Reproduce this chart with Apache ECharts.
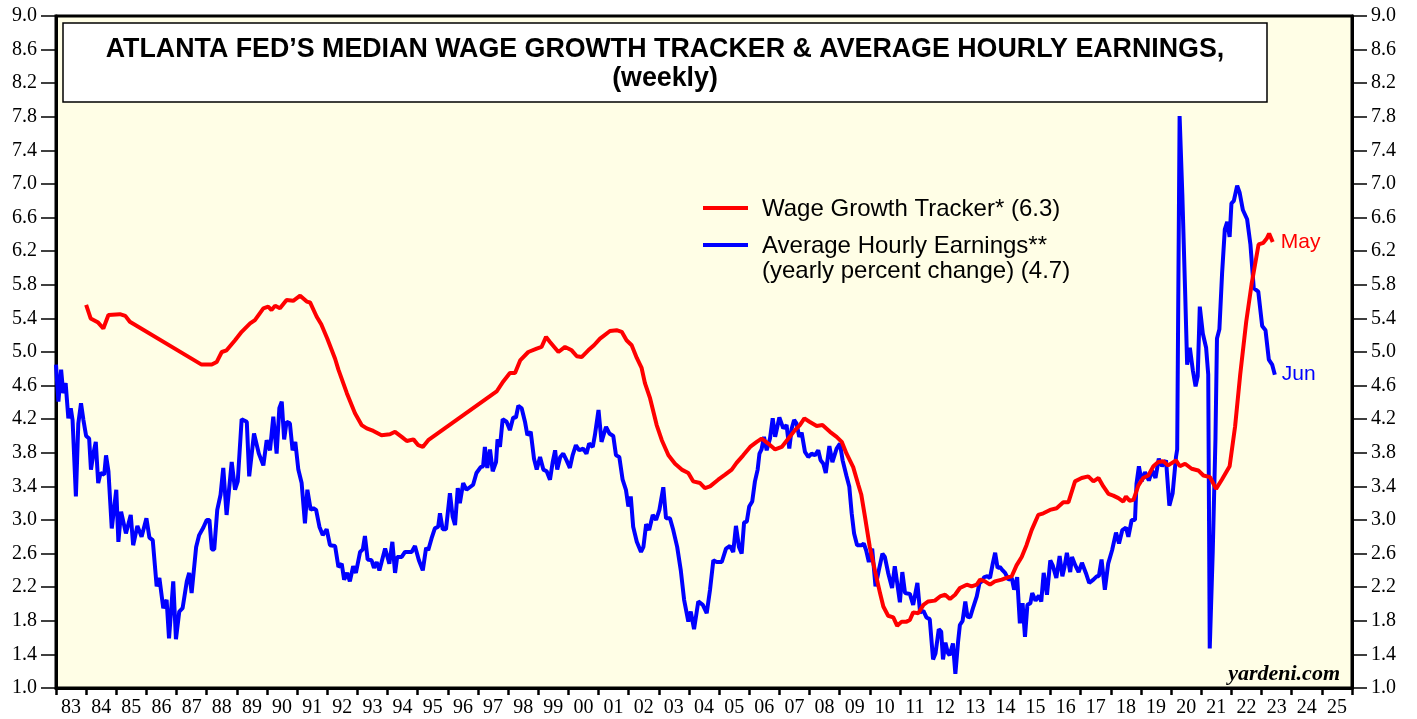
<!DOCTYPE html>
<html>
<head>
<meta charset="utf-8">
<script src="https://cdn.jsdelivr.net/npm/echarts@6/dist/echarts.min.js"></script>
<style>
html,body{margin:0;padding:0;background:#fff;}
#chart{width:1417px;height:719px;}
</style>
</head>
<body>
<div id="chart"></div>
<script>
const yearLabels = ['83','84','85','86','87','88','89','90','91','92','93','94','95','96','97','98','99','00','01','02','03','04','05','06','07','08','09','10','11','12','13','14','15','16','17','18','19','20','21','22','23','24','25'];

const wgtYears = [1984.0,1984.15,1984.4,1984.57,1984.74,1985.12,1985.3,1985.45,1987.83,1988.17,1988.33,1988.5,1988.66,1988.94,1989.16,1989.44,1989.6,1989.88,1990.04,1990.15,1990.27,1990.43,1990.65,1990.87,1991.1,1991.32,1991.43,1991.65,1991.8,1992.0,1992.26,1992.37,1992.65,1992.92,1993.14,1993.31,1993.53,1993.8,1994.08,1994.25,1994.47,1994.64,1994.86,1995.02,1995.17,1995.35,1997.62,1997.84,1998.06,1998.23,1998.4,1998.67,1998.95,1999.11,1999.26,1999.39,1999.67,1999.89,2000.11,2000.28,2000.44,2000.66,2000.85,2001.05,2001.16,2001.38,2001.6,2001.77,2001.93,2002.1,2002.27,2002.43,2002.54,2002.71,2002.93,2003.1,2003.32,2003.54,2003.76,2003.98,2004.14,2004.37,2004.53,2004.7,2004.97,2005.2,2005.42,2005.58,2005.8,2006.03,2006.25,2006.41,2006.63,2006.86,2007.08,2007.3,2007.52,2007.68,2007.83,2008.0,2008.24,2008.43,2008.68,2008.9,2009.07,2009.23,2009.45,2009.62,2009.72,2009.84,2010.0,2010.17,2010.34,2010.45,2010.61,2010.78,2010.91,2011.06,2011.22,2011.33,2011.44,2011.61,2011.78,2011.94,2012.16,2012.33,2012.5,2012.66,2012.83,2012.99,2013.22,2013.38,2013.55,2013.66,2013.82,2013.99,2014.15,2014.38,2014.6,2014.71,2014.87,2015.04,2015.2,2015.37,2015.59,2015.76,2015.98,2016.2,2016.42,2016.59,2016.81,2017.03,2017.25,2017.42,2017.59,2017.75,2017.92,2018.08,2018.25,2018.41,2018.5,2018.62,2018.75,2018.91,2019.07,2019.24,2019.41,2019.57,2019.74,2019.9,2020.16,2020.29,2020.46,2020.68,2020.9,2021.07,2021.29,2021.49,2021.68,2021.94,2022.12,2022.29,2022.49,2022.67,2022.9,2023.06,2023.17,2023.25,2023.37];
const wgtValues = [5.56,5.40,5.35,5.28,5.44,5.45,5.43,5.36,4.85,4.85,4.88,5.00,5.02,5.14,5.24,5.34,5.38,5.52,5.54,5.50,5.55,5.52,5.62,5.61,5.67,5.60,5.59,5.42,5.33,5.16,4.92,4.79,4.51,4.27,4.13,4.09,4.06,4.01,4.02,4.05,3.99,3.94,3.96,3.89,3.87,3.95,4.53,4.65,4.75,4.75,4.90,5.00,5.04,5.06,5.18,5.12,5.00,5.06,5.02,4.95,4.94,5.02,5.08,5.16,5.19,5.25,5.26,5.24,5.14,5.08,4.93,4.81,4.63,4.45,4.13,3.95,3.77,3.67,3.60,3.56,3.46,3.44,3.38,3.40,3.48,3.54,3.60,3.68,3.77,3.87,3.93,3.97,3.91,3.84,3.87,3.97,4.07,4.13,4.21,4.17,4.12,4.13,4.05,3.99,3.93,3.79,3.63,3.42,3.30,3.04,2.68,2.40,2.13,1.97,1.86,1.84,1.74,1.79,1.79,1.81,1.90,1.89,1.99,2.03,2.04,2.09,2.11,2.06,2.11,2.19,2.23,2.21,2.23,2.29,2.27,2.23,2.27,2.29,2.32,2.33,2.46,2.56,2.70,2.88,3.06,3.08,3.12,3.14,3.21,3.21,3.46,3.50,3.52,3.46,3.50,3.40,3.31,3.29,3.26,3.22,3.28,3.23,3.24,3.41,3.50,3.53,3.64,3.69,3.70,3.65,3.71,3.64,3.67,3.61,3.59,3.53,3.51,3.37,3.48,3.64,4.11,4.73,5.36,5.81,6.28,6.30,6.35,6.41,6.31];

const aheYears = [1983.0,1983.08,1983.17,1983.24,1983.32,1983.41,1983.49,1983.55,1983.66,1983.74,1983.83,1983.91,1984.0,1984.1,1984.16,1984.24,1984.32,1984.4,1984.48,1984.6,1984.66,1984.74,1984.85,1985.0,1985.07,1985.16,1985.32,1985.48,1985.56,1985.7,1985.84,1986.0,1986.1,1986.21,1986.34,1986.43,1986.56,1986.67,1986.75,1986.89,1986.98,1987.09,1987.2,1987.34,1987.42,1987.5,1987.65,1987.75,1987.89,1988.0,1988.09,1988.17,1988.25,1988.35,1988.46,1988.55,1988.66,1988.83,1988.94,1989.03,1989.16,1989.33,1989.41,1989.57,1989.73,1989.88,1989.99,1990.1,1990.21,1990.32,1990.41,1990.49,1990.57,1990.65,1990.76,1990.85,1990.94,1991.04,1991.15,1991.26,1991.34,1991.45,1991.54,1991.63,1991.74,1991.85,1991.98,1992.09,1992.26,1992.37,1992.48,1992.56,1992.66,1992.75,1992.86,1992.95,1993.09,1993.18,1993.25,1993.34,1993.47,1993.55,1993.64,1993.73,1993.92,1994.06,1994.16,1994.25,1994.32,1994.47,1994.58,1994.8,1994.91,1995.04,1995.17,1995.28,1995.35,1995.46,1995.57,1995.68,1995.74,1995.83,1995.94,1996.07,1996.16,1996.24,1996.33,1996.4,1996.51,1996.62,1996.84,1996.95,1997.09,1997.17,1997.23,1997.31,1997.4,1997.49,1997.6,1997.65,1997.73,1997.82,1997.95,1998.06,1998.17,1998.26,1998.34,1998.45,1998.56,1998.64,1998.75,1998.86,1998.95,1999.06,1999.17,1999.28,1999.39,1999.48,1999.56,1999.63,1999.73,1999.83,1999.94,2000.05,2000.14,2000.25,2000.36,2000.49,2000.6,2000.69,2000.81,2000.88,2001.0,2001.1,2001.25,2001.36,2001.49,2001.58,2001.69,2001.8,2001.91,2001.99,2002.07,2002.15,2002.27,2002.41,2002.49,2002.58,2002.68,2002.8,2002.91,2003.02,2003.15,2003.24,2003.37,2003.48,2003.61,2003.73,2003.84,2003.98,2004.06,2004.17,2004.31,2004.46,2004.59,2004.7,2004.81,2004.92,2005.09,2005.23,2005.36,2005.47,2005.56,2005.66,2005.75,2005.83,2005.92,2006.0,2006.1,2006.19,2006.28,2006.34,2006.41,2006.49,2006.58,2006.69,2006.78,2006.86,2007.0,2007.13,2007.24,2007.33,2007.41,2007.49,2007.57,2007.66,2007.74,2007.85,2007.96,2008.07,2008.18,2008.29,2008.37,2008.46,2008.54,2008.66,2008.76,2008.9,2009.01,2009.1,2009.23,2009.32,2009.4,2009.48,2009.58,2009.73,2009.8,2009.88,2009.97,2010.08,2010.19,2010.3,2010.42,2010.5,2010.61,2010.74,2010.83,2010.91,2011.0,2011.08,2011.17,2011.33,2011.44,2011.58,2011.67,2011.78,2011.88,2011.99,2012.1,2012.18,2012.29,2012.37,2012.43,2012.51,2012.59,2012.65,2012.76,2012.84,2012.93,2012.99,2013.08,2013.17,2013.24,2013.33,2013.44,2013.55,2013.64,2013.72,2013.8,2013.9,2013.99,2014.08,2014.16,2014.24,2014.32,2014.41,2014.49,2014.6,2014.71,2014.79,2014.89,2014.98,2015.07,2015.15,2015.23,2015.33,2015.39,2015.5,2015.61,2015.69,2015.77,2015.88,2015.99,2016.07,2016.19,2016.3,2016.39,2016.46,2016.54,2016.65,2016.71,2016.82,2016.93,2017.04,2017.17,2017.28,2017.42,2017.53,2017.6,2017.69,2017.8,2017.91,2018.04,2018.17,2018.27,2018.38,2018.5,2018.58,2018.69,2018.8,2018.85,2018.93,2019.02,2019.13,2019.26,2019.37,2019.48,2019.59,2019.7,2019.83,2019.94,2020.05,2020.16,2020.2,2020.28,2020.37,2020.46,2020.53,2020.62,2020.72,2020.81,2020.88,2020.95,2021.05,2021.16,2021.23,2021.28,2021.38,2021.47,2021.52,2021.6,2021.69,2021.78,2021.86,2021.94,2022.0,2022.08,2022.19,2022.27,2022.38,2022.52,2022.63,2022.74,2022.89,2023.02,2023.13,2023.24,2023.35,2023.44];
const aheValues = [4.85,4.41,4.79,4.51,4.63,4.21,4.33,4.19,3.28,4.15,4.39,4.19,4.00,3.97,3.60,3.79,3.93,3.44,3.56,3.54,3.77,3.58,2.90,3.36,2.74,3.10,2.84,3.06,2.70,2.93,2.80,3.02,2.79,2.76,2.21,2.31,1.95,2.05,1.59,2.27,1.58,1.91,1.95,2.27,2.37,2.13,2.68,2.82,2.91,3.00,3.00,2.65,2.65,3.12,3.30,3.62,3.06,3.69,3.36,3.46,4.20,4.17,3.52,4.03,3.79,3.65,3.95,3.83,4.23,3.79,4.33,4.41,3.96,4.17,4.15,3.83,3.93,3.60,3.44,2.96,3.36,3.12,3.14,3.12,2.92,2.82,2.89,2.70,2.69,2.44,2.48,2.29,2.37,2.27,2.45,2.37,2.62,2.65,2.81,2.53,2.52,2.43,2.50,2.40,2.66,2.48,2.74,2.37,2.56,2.56,2.62,2.62,2.69,2.52,2.40,2.67,2.64,2.78,2.90,2.92,3.08,2.89,2.89,3.32,3.04,2.94,3.38,3.20,3.44,3.36,3.42,3.56,3.63,3.64,3.87,3.62,3.84,3.58,3.69,3.96,3.87,4.20,4.17,4.07,4.22,4.22,4.36,4.33,4.17,4.01,4.05,3.73,3.60,3.75,3.60,3.58,3.48,3.69,3.83,3.60,3.75,3.79,3.71,3.62,3.77,3.89,3.83,3.85,3.79,3.91,3.87,4.01,4.31,3.93,4.11,4.03,4.00,3.77,3.75,3.48,3.36,3.16,3.28,2.92,2.74,2.62,2.68,2.95,2.88,3.06,3.00,3.12,3.39,3.02,3.02,2.88,2.68,2.40,2.05,1.79,1.91,1.70,2.03,1.99,1.89,2.17,2.52,2.50,2.50,2.66,2.69,2.62,2.93,2.68,2.60,2.97,2.98,3.16,3.22,3.46,3.60,3.79,3.84,3.99,3.83,3.97,4.21,3.99,4.22,4.09,4.13,3.85,4.09,4.19,4.15,3.99,4.04,3.81,3.75,3.79,3.77,3.83,3.71,3.67,3.56,3.88,3.69,3.85,3.91,3.71,3.52,3.40,3.08,2.84,2.70,2.70,2.72,2.64,2.50,2.66,2.21,2.40,2.60,2.56,2.37,2.19,2.45,2.25,2.02,2.38,2.13,2.12,1.99,2.25,1.90,1.92,1.84,1.82,1.34,1.41,1.70,1.67,1.34,1.54,1.42,1.39,1.53,1.17,1.55,1.75,1.80,2.03,1.85,1.84,1.97,2.09,2.25,2.27,2.32,2.33,2.31,2.48,2.61,2.43,2.44,2.40,2.37,2.29,2.31,2.17,2.32,1.77,2.01,1.61,1.99,2.01,2.13,2.04,2.10,2.03,2.37,2.11,2.52,2.46,2.31,2.57,2.33,2.44,2.61,2.38,2.56,2.46,2.38,2.49,2.37,2.25,2.29,2.33,2.33,2.53,2.17,2.48,2.64,2.85,2.72,2.88,2.91,2.80,3.00,3.00,3.43,3.64,3.46,3.57,3.47,3.59,3.50,3.73,3.64,3.71,3.17,3.32,3.75,3.84,7.81,6.88,5.76,4.85,5.05,4.78,4.59,4.71,5.54,5.22,5.05,4.73,1.47,2.63,3.97,5.16,5.27,5.94,6.46,6.55,6.37,6.77,6.80,6.98,6.90,6.69,6.58,6.28,5.76,5.72,5.31,5.26,4.91,4.85,4.73];

const wgtName = 'Wage Growth Tracker* (6.3)';
const aheName1 = 'Average Hourly Earnings**';
const aheName2 = '(yearly percent change) (4.7)';

const zip = (xs, ys) => xs.map((x, i) => [x, ys[i]]);

const chart = echarts.init(document.getElementById('chart'), null, {renderer: 'canvas'});
const serif = 'Liberation Serif, Times New Roman, serif';
const sans = 'Liberation Sans, Arial, Helvetica, sans-serif';

const yAxisCommon = {
  type: 'value', min: 1, max: 9, interval: 0.4,
  axisLine: {show: true, lineStyle: {color: '#000', width: 3}},
  axisTick: {show: true, inside: false, length: 15, lineStyle: {color: '#000', width: 1.5}},
  axisLabel: {color: '#000', fontFamily: serif, fontSize: 20, margin: 19, formatter: v => v.toFixed(1)},
  splitLine: {show: false}
};

chart.setOption({
  animation: false,
  backgroundColor: '#ffffff',
  grid: {left: 56, right: 65, top: 16, bottom: 31, show: true, backgroundColor: '#fffee6', borderColor: '#000', borderWidth: 3},
  xAxis: [
    {
      type: 'category', data: yearLabels, boundaryGap: true, position: 'bottom',
      axisLine: {show: true, lineStyle: {color: '#000', width: 3}},
      axisTick: {show: true, inside: false, length: 7, lineStyle: {color: '#000', width: 2.5}},
      axisLabel: {color: '#000', fontFamily: serif, fontSize: 20, margin: 10, interval: 0},
      splitLine: {show: false}
    },
    {type: 'value', min: 1983, max: 2026, show: false}
  ],
  yAxis: [
    Object.assign({position: 'left'}, yAxisCommon),
    Object.assign({position: 'right'}, yAxisCommon)
  ],
  series: [
    {
      name: wgtName, type: 'line', xAxisIndex: 1, yAxisIndex: 0,
      data: zip(wgtYears, wgtValues), showSymbol: false, symbol: 'none',
      lineStyle: {color: '#ff0000', width: 4}, itemStyle: {color: '#ff0000'}, z: 3,
      endLabel: {show: true, formatter: 'May', color: '#ff0000', fontFamily: sans, fontSize: 21, distance: 8}
    },
    {
      name: aheName1, type: 'line', xAxisIndex: 1, yAxisIndex: 0,
      data: zip(aheYears, aheValues), showSymbol: false, symbol: 'none',
      lineStyle: {color: '#0000ff', width: 4}, itemStyle: {color: '#0000ff'}, z: 2,
      endLabel: {show: true, formatter: 'Jun', color: '#0000ff', fontFamily: sans, fontSize: 21, distance: 7}
    }
  ],
  graphic: [
    {type: 'rect', z: 100, shape: {x: 63, y: 23, width: 1204, height: 79}, style: {fill: '#ffffff', stroke: '#000', lineWidth: 1.5}},
    {type: 'text', z: 101, x: 665, y: 50, style: {text: 'ATLANTA FED\u2019S MEDIAN WAGE GROWTH TRACKER & AVERAGE HOURLY EARNINGS,', font: 'bold 26.8px ' + sans, fill: '#000', textAlign: 'center', textVerticalAlign: 'middle'}},
    {type: 'text', z: 101, x: 665, y: 79, style: {text: '(weekly)', font: 'bold 26.8px ' + sans, fill: '#000', textAlign: 'center', textVerticalAlign: 'middle'}},
    {type: 'line', z: 100, shape: {x1: 703, y1: 208, x2: 748, y2: 208}, style: {stroke: '#ff0000', lineWidth: 4}},
    {type: 'line', z: 100, shape: {x1: 703, y1: 245, x2: 748, y2: 245}, style: {stroke: '#0000ff', lineWidth: 4}},
    {type: 'text', z: 100, x: 762, y: 209, style: {text: wgtName, font: '24px ' + sans, fill: '#000', textVerticalAlign: 'middle'}},
    {type: 'text', z: 100, x: 762, y: 246, style: {text: aheName1, font: '24px ' + sans, fill: '#000', textVerticalAlign: 'middle'}},
    {type: 'text', z: 100, x: 762, y: 271, style: {text: aheName2, font: '24px ' + sans, fill: '#000', textVerticalAlign: 'middle'}},
    {type: 'text', z: 100, x: 1340, y: 674, style: {text: 'yardeni.com', font: 'italic bold 22px ' + serif, fill: '#000', textAlign: 'right', textVerticalAlign: 'middle'}}
  ]
});
</script>
</body>
</html>
